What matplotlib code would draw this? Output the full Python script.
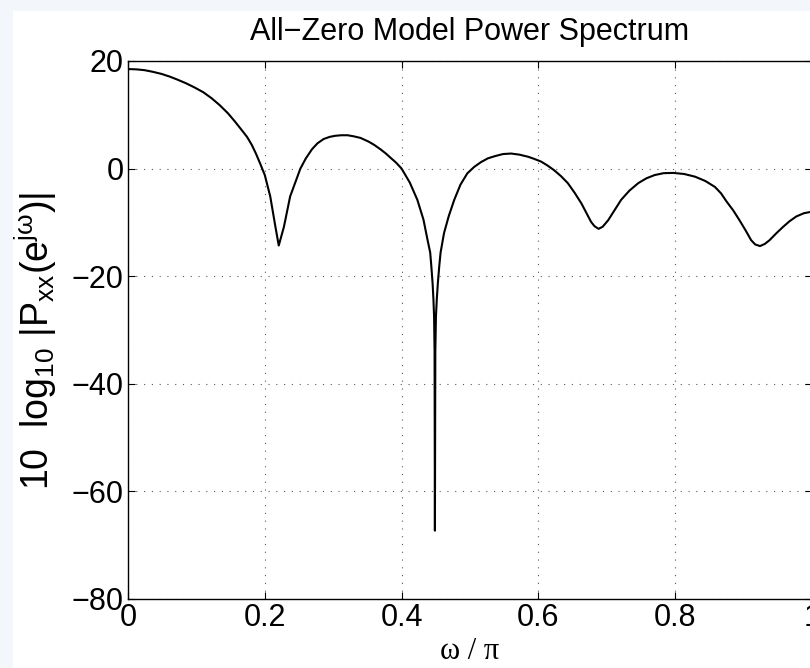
import numpy as np
import matplotlib
matplotlib.use("Agg")
import matplotlib.pyplot as plt
from matplotlib.patches import Rectangle

# values (omega/pi, dB)
w = [0.000, 0.012, 0.024, 0.036, 0.049, 0.061, 0.073, 0.085, 0.097, 0.110,
     0.122, 0.134, 0.146, 0.156, 0.166, 0.174, 0.181, 0.187, 0.193, 0.200,
     0.208, 0.2155, 0.2204, 0.228, 0.237, 0.252, 0.260, 0.269, 0.277, 0.286,
     0.295, 0.303, 0.312, 0.321, 0.330, 0.340, 0.352, 0.360, 0.369, 0.377,
     0.384, 0.392, 0.400, 0.412, 0.423, 0.432, 0.438, 0.4418, 0.4435, 0.4453,
     0.4465, 0.4475, 0.4482, 0.4487, 0.4493, 0.4502, 0.4515, 0.4530, 0.4550, 0.4570,
     0.462, 0.469, 0.477, 0.486, 0.496, 0.506, 0.516, 0.526, 0.536, 0.548,
     0.560, 0.572, 0.585, 0.594, 0.604, 0.613, 0.623, 0.633, 0.643, 0.653,
     0.663, 0.670, 0.677, 0.682, 0.688, 0.694, 0.702, 0.711, 0.721, 0.733,
     0.746, 0.758, 0.770, 0.783, 0.797, 0.813, 0.829, 0.844, 0.858, 0.867,
     0.875, 0.885, 0.894, 0.903, 0.911, 0.917, 0.924, 0.931, 0.938, 0.948,
     0.958, 0.967, 0.977, 0.988, 1.000]
pxx_db = [18.5, 18.45, 18.3, 18.0, 17.6, 17.1, 16.5, 15.85, 15.1, 14.2,
          13.1, 11.8, 10.3, 8.8, 7.2, 5.9, 4.4, 2.8, 1.0, -1.2,
          -5.2, -10.8, -14.3, -10.8, -5.2, 0.0, 1.9, 3.6, 4.7, 5.5,
          5.9, 6.1, 6.2, 6.2, 6.0, 5.7, 5.0, 4.4, 3.6, 2.8,
          2.0, 1.1, 0.0, -2.6, -5.8, -9.5, -13.3, -15.6, -18.2, -21.3,
          -24.2, -27.5, -34.0, -67.3, -34.0, -27.5, -24.2, -21.3, -18.2, -15.6,
          -12.0, -8.8, -5.8, -3.0, -0.9, 0.3, 1.2, 1.9, 2.3, 2.7,
          2.8, 2.6, 2.2, 1.8, 1.3, 0.6, -0.3, -1.4, -2.7, -4.5,
          -6.5, -8.2, -9.9, -10.7, -11.2, -10.8, -9.6, -7.8, -5.8, -4.1,
          -2.7, -1.8, -1.2, -0.85, -0.8, -1.0, -1.5, -2.3, -3.4, -4.6,
          -6.1, -7.8, -9.6, -11.5, -13.3, -14.1, -14.4, -14.0, -13.3, -12.0,
          -10.8, -9.8, -8.9, -8.3, -8.0]

xticks = [0, 0.2, 0.4, 0.6, 0.8, 1]
xticklabels = ['0', '0.2', '0.4', '0.6', '0.8', '1']
yticks = [-80, -60, -40, -20, 0, 20]

plt.rcParams['font.family'] = ['Liberation Sans', 'DejaVu Sans']
plt.rcParams['mathtext.fontset'] = 'custom'
plt.rcParams['mathtext.rm'] = 'Liberation Sans'
plt.rcParams['mathtext.it'] = 'Liberation Sans'

fig = plt.figure(figsize=(8.1, 6.68), dpi=100, facecolor='#f3f7fc')
fig.patches.append(Rectangle((13/810, 0), 1, 1 - 11/668, transform=fig.transFigure,
                             facecolor='white', edgecolor='none', zorder=-1))

ax = fig.add_axes([128/810, 69/668, 684/810, 538/668])
ax.plot(w, pxx_db, color='black', lw=1.5)

ax.set_xlim(0, 1)
ax.set_ylim(-80, 20)
ax.set_xticks(xticks)
ax.set_xticklabels(xticklabels)
ax.set_yticks(yticks)
ax.tick_params(direction='in', length=5, width=0.8, top=True, right=True,
               labelsize=22, pad=3)
ax.grid(True, color='0.35', linestyle=(0, (1, 6)), lw=0.8)
for s in ax.spines.values():
    s.set_linewidth(1.0)

ax.set_title('All\u2212Zero Model Power Spectrum', fontsize=22, pad=15)
ax.set_xlabel('\u03c9 / \u03c0', fontsize=22, family='Liberation Serif', labelpad=3)
ax.set_ylabel('10  log$_{10}$ |P$_{xx}$(e$^{j\u03c9}$)|', fontsize=27)
ax.yaxis.set_label_coords(-0.101, 0.48)

fig.savefig('out.png', dpi=100, facecolor=fig.get_facecolor())
